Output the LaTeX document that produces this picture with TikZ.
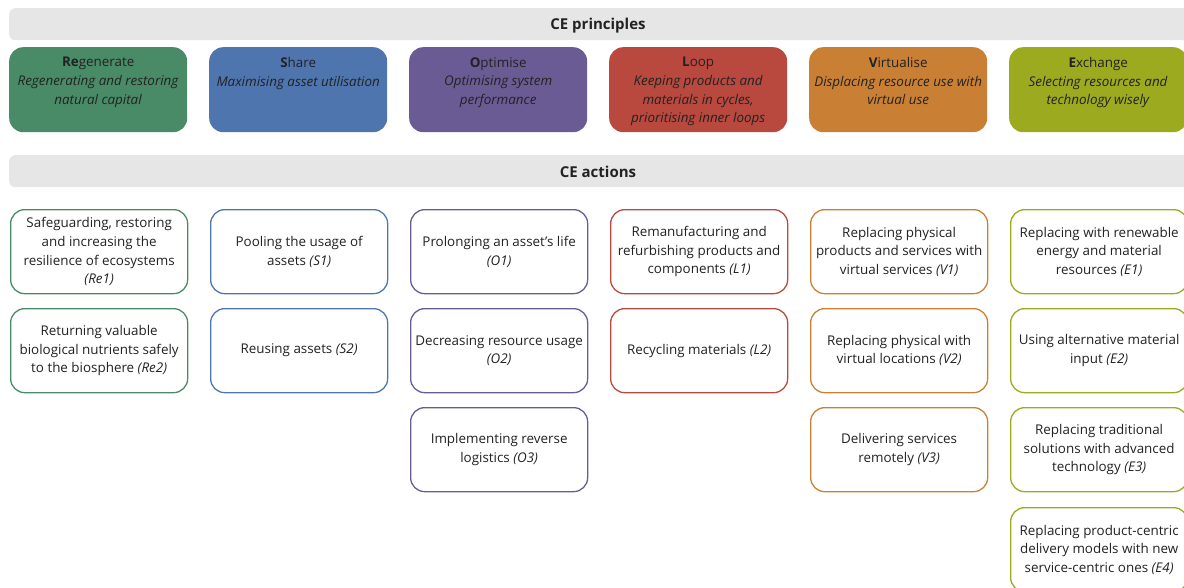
\documentclass[tikz,border=0pt]{standalone}
\usepackage{fontspec}
\setmainfont{Open Sans}
\definecolor{barg}{HTML}{E6E6E6}
\definecolor{cRe}{HTML}{4A8B67}
\definecolor{cS}{HTML}{4F75AF}
\definecolor{cO}{HTML}{6B5B95}
\definecolor{cL}{HTML}{B9493F}
\definecolor{cV}{HTML}{C98034}
\definecolor{cE}{HTML}{9BAA1F}
\definecolor{ink}{HTML}{222222}
\begin{document}
\begin{tikzpicture}[x=1pt,y=-1pt,
  bar/.style={fill=barg, rounded corners=6pt, minimum width=1200pt, minimum height=32pt,
              anchor=north west, inner sep=0pt},
  bartext/.style={font=\fontsize{15}{17}\selectfont\bfseries, text=ink},
  principle/.style={fill=#1, draw=none, rounded corners=14pt, minimum width=178pt,
              minimum height=85pt, anchor=north west, inner sep=0pt},
  ptext/.style={anchor=north, align=center, inner sep=0pt, text=ink,
              font=\fontsize{13.4}{18.7}\selectfont},
  action/.style={draw=#1, line width=1.3pt, fill=white, rounded corners=14pt,
              minimum width=177pt, minimum height=84pt, anchor=north west,
              inner sep=0pt, align=center, text=ink,
              font=\fontsize{13.4}{18.6}\selectfont}
]
\useasboundingbox (0,0) rectangle (1184,587);
\clip (0,0) rectangle (1184,587);

% section headers
\node[bar] (hP) at (9,8) {};
\node[bartext] (hPt) at (598,25.5) {CE principles};
\node[bar] (hA) at (9,155) {};
\node[bartext] (hAt) at (598,172) {CE actions};

% principles
\node[principle=cRe] (pRe) at (9,47) {};
\node[ptext] (pRet) at ([yshift=-10pt]pRe.north) {\textbf{Re}generate\\ \textit{Regenerating and restoring}\\ \textit{natural capital}};
\node[principle=cS] (pS) at (209,47) {};
\node[ptext] (pSt) at ([yshift=-10pt]pS.north) {\textbf{S}hare\\ \textit{Maximising asset utilisation}};
\node[principle=cO] (pO) at (409,47) {};
\node[ptext] (pOt) at ([yshift=-10pt]pO.north) {\textbf{O}ptimise\\ \textit{Optimising system}\\ \textit{performance}};
\node[principle=cL] (pL) at (609,47) {};
\node[ptext] (pLt) at ([yshift=-10pt]pL.north) {\textbf{L}oop\\ \textit{Keeping products and}\\ \textit{materials in cycles,}\\ \textit{prioritising inner loops}};
\node[principle=cV] (pV) at (809,47) {};
\node[ptext] (pVt) at ([yshift=-10pt]pV.north) {\textbf{V}irtualise\\ \textit{Displacing resource use with}\\ \textit{virtual use}};
\node[principle=cE] (pE) at (1009,47) {};
\node[ptext] (pEt) at ([yshift=-10pt]pE.north) {\textbf{E}xchange\\ \textit{Selecting resources and}\\ \textit{technology wisely}};

% actions: Regenerate
\node[action=cRe] (aRe1) at (10,209) {Safeguarding, restoring\\ and increasing the\\ resilience of ecosystems\\ \textit{(Re1)}};
\node[action=cRe] (aRe2) at (10,308) {Returning valuable\\ biological nutrients safely\\ to the biosphere \textit{(Re2)}};
% actions: Share
\node[action=cS] (aS1) at (210,209) {Pooling the usage of\\ assets \textit{(S1)}};
\node[action=cS] (aS2) at (210,308) {Reusing assets \textit{(S2)}};
% actions: Optimise
\node[action=cO] (aO1) at (410,209) {Prolonging an asset's life\\ \textit{(O1)}};
\node[action=cO] (aO2) at (410,308) {Decreasing resource usage\\ \textit{(O2)}};
\node[action=cO] (aO3) at (410,407) {Implementing reverse\\ logistics \textit{(O3)}};
% actions: Loop
\node[action=cL] (aL1) at (610,209) {Remanufacturing and\\ refurbishing products and\\ components \textit{(L1)}};
\node[action=cL] (aL2) at (610,308) {Recycling materials \textit{(L2)}};
% actions: Virtualise
\node[action=cV] (aV1) at (810,209) {Replacing physical\\ products and services with\\ virtual services \textit{(V1)}};
\node[action=cV] (aV2) at (810,308) {Replacing physical with\\ virtual locations \textit{(V2)}};
\node[action=cV] (aV3) at (810,407) {Delivering services\\ remotely \textit{(V3)}};
% actions: Exchange
\node[action=cE] (aE1) at (1010,209) {Replacing with renewable\\ energy and material\\ resources \textit{(E1)}};
\node[action=cE] (aE2) at (1010,308) {Using alternative material\\ input \textit{(E2)}};
\node[action=cE] (aE3) at (1010,407) {Replacing traditional\\ solutions with advanced\\ technology \textit{(E3)}};
\node[action=cE] (aE4) at (1010,507) {Replacing product-centric\\ delivery models with new\\ service-centric ones \textit{(E4)}};
\end{tikzpicture}
\end{document}
